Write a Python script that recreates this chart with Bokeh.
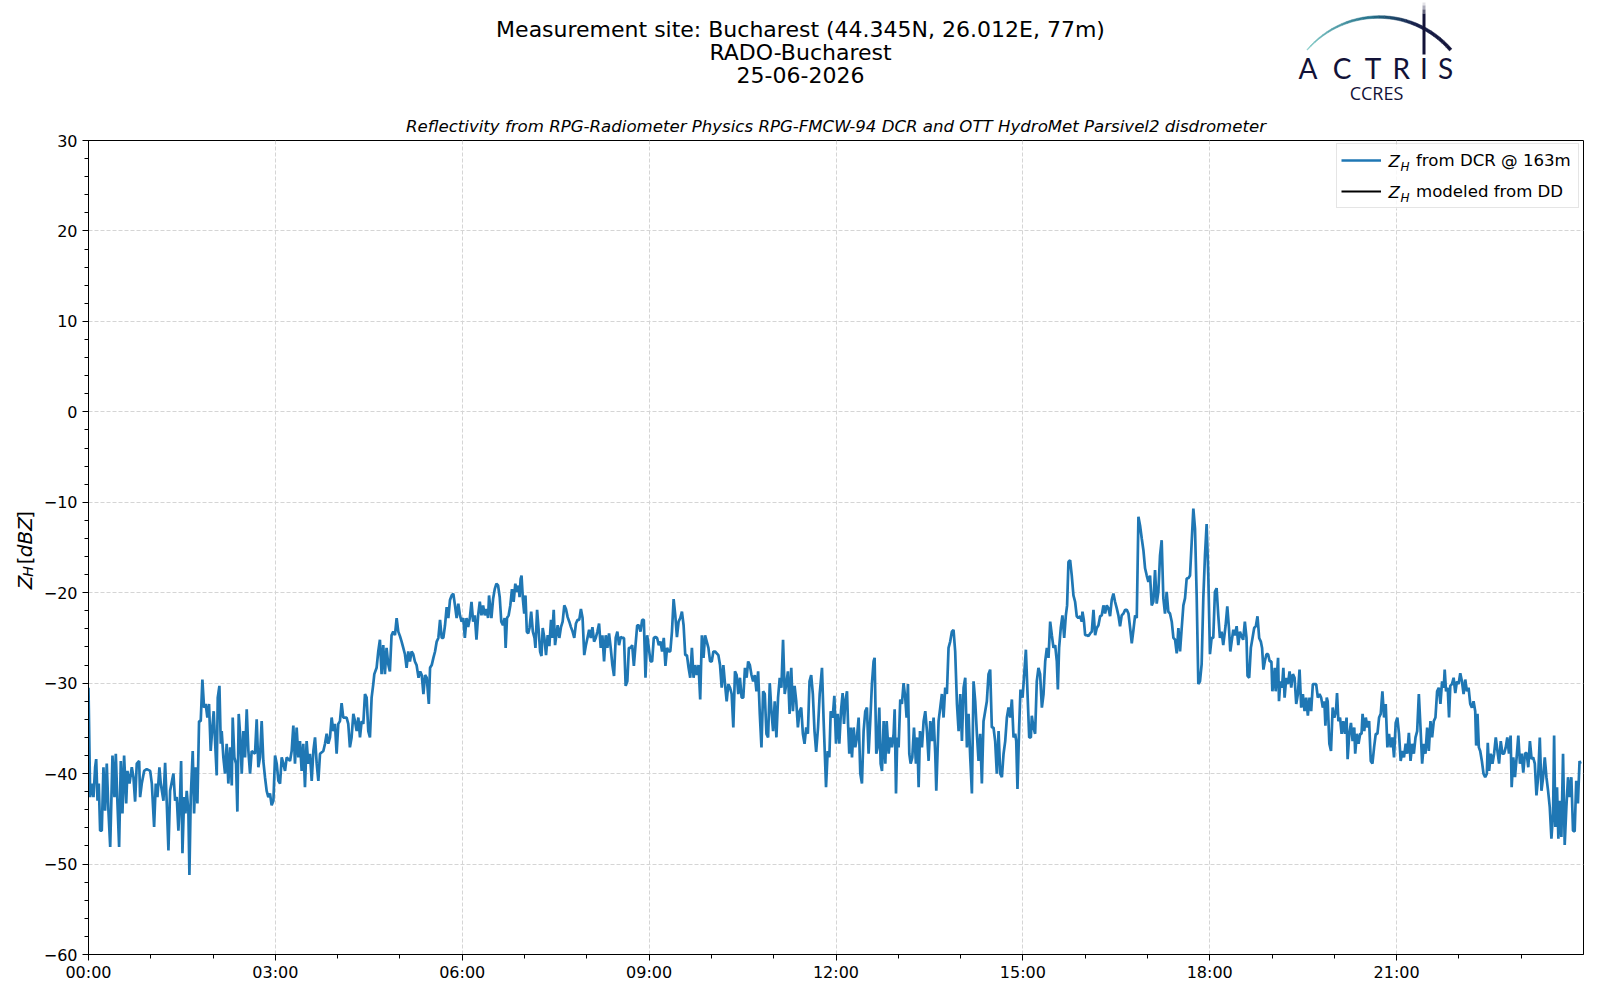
from math import cos, pi, radians, sin

import pandas as pd
from bokeh.core.properties import value
from bokeh.embed import file_html
from bokeh.layouts import column, row
from bokeh.models import (BoxAnnotation, ColumnDataSource, DatetimeTickFormatter,
                          FixedTicker, Label, Legend, LegendItem, Range1d)
from bokeh.plotting import figure
from bokeh.resources import INLINE

DAY = pd.Timestamp("2026-06-25")

# Z_H from the cloud radar at 163 m
# (minutes after midnight, dBZ), split by time of day
t_a = [0.0, 1.6, 3.2, 4.8, 6.4, 7.4, 8.7, 9.9, 11.2, 12.8,
       14.4, 16.0, 17.6, 19.2, 20.9, 23.1, 25.0, 26.3, 27.9, 29.5,
       31.1, 32.7, 34.3, 36.3, 37.5, 39.5, 41.7, 43.3, 44.9, 46.5,
       48.8, 49.7, 51.3, 53.6, 56.1, 59.4, 61.0, 63.2, 64.8, 66.4,
       68.3, 69.6, 72.2, 73.8, 75.4, 77.0, 78.6, 81.8, 83.4, 85.0,
       86.6, 88.2, 89.2, 90.5, 92.1, 93.4, 94.6, 96.2, 97.2, 98.5,
       100.4, 101.7, 103.3, 104.9, 106.5, 108.1, 109.7, 111.3, 112.9, 114.5,
       116.1, 117.7, 119.3, 120.6, 121.9, 123.5, 124.5, 126.1, 127.4, 128.3,
       129.9, 131.5, 133.1, 134.7, 136.4, 138.0, 138.9, 140.5, 142.1, 143.4,
       144.7, 146.0, 147.6, 149.2, 150.8, 152.4, 154.0, 155.6, 157.2, 160.4,
       162.0, 163.6, 165.2, 166.8, 168.4, 170.0, 171.6, 173.2, 174.8, 176.4,
       178.1, 179.7, 181.3, 182.9, 184.5, 186.1, 187.7, 189.3, 190.9, 194.1,
       195.7, 197.3, 198.9, 200.5, 202.1, 203.7, 205.3, 206.9, 208.5, 210.1,
       211.7, 213.3, 215.0, 216.6, 218.2, 219.8, 221.4, 223.0, 226.2, 227.8,
       229.4, 231.0, 232.6, 234.2, 235.8, 237.4, 239.0, 240.6, 242.2, 243.8,
       245.4, 248.6, 250.2, 251.8, 253.4, 255.1, 256.7, 258.3, 259.9, 261.5,
       263.1, 264.7, 266.3, 267.9, 269.5, 271.1, 272.7, 274.3, 275.3, 277.5,
       279.1, 280.7, 282.3, 283.9, 285.5, 287.1, 288.7, 290.3, 291.9, 293.5,
       295.2, 296.8, 298.4, 300.0, 301.6, 303.2, 304.8, 306.4, 308.0, 309.6,
       311.2, 312.8, 314.4, 316.0]
z_a = [-30.5, -42.6, -41.1, -42.6, -39.3, -38.4, -43.0, -41.1, -46.3, -46.3,
       -39.3, -44.1, -38.9, -44.1, -48.1, -38.0, -42.6, -37.8, -43.3, -48.1,
       -38.6, -44.4, -38.0, -43.3, -39.7, -41.1, -39.3, -40.4, -43.1, -38.9,
       -38.6, -42.6, -41.1, -39.7, -39.5, -39.7, -41.1, -45.9, -41.1, -42.6,
       -39.3, -41.1, -43.0, -38.8, -43.3, -48.5, -41.9, -40.0, -43.0, -42.6,
       -46.3, -42.6, -38.6, -48.8, -42.6, -44.4, -41.9, -44.1, -51.2, -42.6,
       -37.5, -44.4, -39.3, -43.3, -34.2, -34.2, -29.6, -32.7, -32.3, -33.8,
       -32.3, -37.5, -34.9, -33.1, -36.4, -40.2, -31.6, -30.3, -36.7, -35.3,
       -38.2, -40.0, -36.7, -41.1, -37.1, -41.3, -33.8, -38.2, -38.9, -44.2,
       -33.4, -35.6, -40.0, -35.3, -38.2, -32.9, -37.5, -40.0, -37.5, -37.8,
       -34.0, -39.3, -38.2, -34.2, -38.6, -40.4, -41.9, -42.6, -42.2, -43.5,
       -43.0, -38.0, -38.9, -40.8, -41.1, -38.2, -38.9, -39.7, -38.2, -38.6,
       -37.5, -34.7, -38.9, -34.9, -38.2, -36.4, -39.7, -36.7, -41.5, -36.4,
       -38.9, -37.8, -40.8, -37.5, -36.0, -38.9, -40.8, -37.8, -37.5, -36.7,
       -35.6, -36.7, -36.0, -33.8, -35.3, -34.5, -37.8, -34.5, -34.2, -32.2,
       -33.8, -33.8, -34.5, -37.1, -36.0, -33.4, -34.2, -35.3, -33.8, -36.0,
       -34.2, -34.5, -31.2, -31.6, -35.3, -36.0, -31.6, -30.1, -29.0, -28.3,
       -26.5, -25.2, -29.0, -25.8, -29.0, -26.1, -27.9, -28.7, -24.7, -24.3,
       -24.7, -22.8, -24.3, -24.8, -25.4, -26.1, -26.8, -28.3, -26.5, -27.6,
       -26.5, -26.8, -27.6, -28.0]

t_b = [317.9, 319.5, 321.0, 322.6, 324.2, 325.8, 327.8, 329.0, 330.6, 332.2,
       333.8, 335.4, 337.0, 338.6, 340.2, 341.8, 343.4, 345.0, 346.6, 348.2,
       349.8, 351.4, 353.0, 354.6, 356.2, 357.8, 359.4, 361.0, 362.5, 364.1,
       365.7, 367.3, 368.9, 370.5, 372.1, 373.7, 375.3, 376.9, 378.5, 380.1,
       381.7, 383.3, 384.9, 385.8, 388.1, 389.7, 391.3, 392.9, 394.5, 396.1,
       397.6, 399.2, 400.8, 401.8, 403.1, 404.7, 406.3, 407.9, 409.5, 411.1,
       412.7, 414.3, 415.2, 416.2, 417.1, 418.4, 419.7, 420.9, 422.2, 423.5,
       424.8, 426.4, 428.0, 429.6, 430.5, 432.1, 433.7, 435.0, 436.3, 437.5,
       439.1, 440.7, 442.3, 443.9, 445.5, 446.5, 448.1, 449.4, 450.3, 451.9,
       453.5, 455.1, 456.7, 458.3, 459.9, 461.5, 463.1, 464.7, 466.3, 467.9,
       469.5, 471.1, 472.7, 474.3, 475.9, 477.5, 479.1, 480.6, 482.2, 483.8,
       485.4, 487.0, 488.6, 490.2, 491.8, 493.4, 495.0, 496.6, 498.2, 499.8,
       501.4, 503.0, 504.6, 506.2, 507.8, 509.4, 511.0, 512.6, 514.2, 515.8,
       517.4, 519.0, 520.5, 522.1, 523.7, 525.3, 526.9, 528.5, 530.1, 531.7,
       533.3, 534.9, 536.5, 538.1, 539.7, 541.3, 542.9, 544.5, 546.1, 547.7,
       549.3, 550.9, 552.5, 554.1, 555.7, 557.3, 558.9, 560.4, 562.0, 563.6,
       565.2, 566.8, 568.4, 570.0, 571.6, 573.2, 574.8, 576.4, 578.0, 579.6,
       581.2, 582.8, 584.4, 586.0, 587.6, 589.2, 590.8, 592.4, 593.9, 595.5,
       597.1, 598.7, 600.3, 601.9, 603.5, 606.7, 608.3, 609.9, 611.5, 613.1,
       614.7, 616.3, 617.9, 619.5, 621.1, 622.7, 624.3, 625.9, 627.5, 629.1,
       630.7, 632.3, 633.9, 635.4, 637.0, 638.6, 640.2, 641.8, 643.4, 645.0,
       646.6, 648.2, 649.8, 651.4, 653.0, 654.6, 656.2, 657.8, 659.4, 661.0,
       662.6, 664.2, 665.8, 667.4, 669.0, 670.6, 672.1, 673.7, 675.3, 676.9,
       678.5, 680.1, 681.7, 683.3, 684.9, 686.5, 688.1, 689.7, 691.3, 692.9,
       694.5, 696.1, 697.7, 699.3, 700.9]
z_b = [-29.4, -28.7, -29.1, -31.2, -29.1, -29.4, -32.3, -28.3, -28.0, -27.2,
       -26.5, -25.4, -25.0, -23.0, -25.0, -25.0, -23.6, -21.6, -22.8, -20.8,
       -20.3, -20.1, -21.4, -22.8, -21.2, -22.5, -23.2, -22.8, -25.0, -22.8,
       -23.8, -22.8, -21.0, -23.2, -22.5, -25.2, -22.5, -21.0, -22.5, -21.4,
       -22.5, -21.8, -22.8, -20.3, -22.8, -20.7, -19.6, -19.0, -19.2, -20.5,
       -23.2, -23.6, -22.8, -26.1, -22.8, -22.5, -21.4, -19.6, -21.0, -19.0,
       -19.9, -19.2, -20.5, -18.5, -18.1, -20.7, -22.3, -20.3, -24.3, -24.5,
       -23.9, -22.1, -24.3, -25.0, -26.1, -21.9, -24.3, -26.5, -27.0, -23.9,
       -25.0, -26.9, -24.7, -25.9, -23.0, -25.0, -21.9, -25.8, -25.0, -23.6,
       -25.0, -23.8, -23.2, -21.4, -21.8, -22.7, -23.2, -23.8, -24.3, -25.0,
       -23.4, -23.0, -23.0, -21.8, -22.8, -26.9, -25.8, -25.0, -24.1, -25.0,
       -23.8, -25.4, -25.0, -24.3, -23.4, -26.1, -24.7, -27.6, -24.7, -26.1,
       -24.5, -26.1, -28.0, -29.2, -25.0, -24.3, -25.8, -24.9, -25.0, -25.0,
       -30.3, -29.8, -26.1, -26.1, -25.8, -28.1, -25.8, -23.6, -23.6, -24.3,
       -23.0, -23.0, -29.4, -24.7, -26.1, -27.6, -27.6, -25.0, -24.9, -25.0,
       -25.8, -25.4, -26.5, -25.0, -28.1, -26.1, -26.5, -26.5, -24.3, -20.7,
       -22.5, -24.9, -23.2, -22.8, -22.1, -23.6, -26.9, -26.9, -28.3, -29.4,
       -26.1, -29.4, -28.0, -29.1, -28.0, -31.8, -24.7, -27.2, -24.7, -25.4,
       -26.1, -27.6, -27.6, -26.5, -26.5, -26.9, -28.0, -30.5, -28.0, -30.1,
       -32.0, -30.1, -30.5, -31.2, -34.9, -28.7, -29.1, -31.2, -29.4, -31.6,
       -31.6, -28.3, -29.4, -27.6, -28.0, -29.1, -29.8, -29.1, -30.9, -28.7,
       -33.4, -37.1, -30.9, -31.2, -35.6, -36.0, -30.0, -33.1, -35.3, -32.0,
       -36.0, -31.6, -29.4, -30.5, -25.2, -31.2, -30.1, -28.7, -33.4, -28.3,
       -33.1, -30.3, -32.0, -34.9, -33.1, -32.7, -35.6, -36.7, -34.9, -35.6,
       -29.8, -29.1, -31.2, -35.3, -37.6]

t_c = [702.7, 704.3, 706.5, 708.1, 710.4, 712.0, 713.6, 714.9, 716.8, 718.4,
       720.0, 721.6, 723.2, 724.8, 726.4, 727.7, 729.0, 730.6, 731.6, 732.8,
       734.1, 735.4, 737.0, 738.6, 740.2, 741.8, 743.4, 745.0, 746.6, 748.2,
       749.8, 751.4, 753.0, 754.6, 756.2, 757.2, 758.8, 760.1, 761.7, 763.0,
       764.3, 765.9, 767.5, 768.8, 770.7, 772.3, 773.9, 775.5, 776.5, 777.8,
       779.0, 780.3, 781.9, 783.5, 785.1, 786.7, 788.0, 789.3, 790.6, 791.9,
       793.5, 795.1, 797.0, 798.3, 799.6, 800.9, 802.8, 804.4, 806.0, 807.6,
       809.2, 810.8, 812.4, 814.0, 815.6, 816.6, 818.8, 820.4, 822.0, 823.6,
       825.2, 826.8, 828.4, 830.0, 831.6, 833.2, 834.8, 836.5, 838.1, 839.7,
       841.3, 842.9, 844.5, 846.1, 847.7, 849.3, 850.9, 852.5, 854.1, 855.7,
       857.3, 858.9, 860.5, 862.1, 863.7, 865.3, 866.9, 868.5, 870.1, 871.7,
       873.3, 874.9, 876.6, 878.2, 879.8, 881.4, 883.0, 884.6, 886.2, 887.8,
       889.4, 891.0, 892.6, 893.6, 894.8, 896.4, 897.7, 899.7, 901.3, 902.9,
       904.5, 906.1, 907.7, 908.6, 910.2, 911.8, 913.4, 915.0, 916.6, 918.3,
       919.9, 921.5, 923.1, 924.7, 926.3, 927.9, 929.5, 931.1, 932.7, 933.7,
       934.9, 936.5, 938.1, 939.8, 941.4, 942.6, 943.9, 945.5, 947.1, 948.7,
       950.3, 951.9, 953.5, 955.1, 956.7, 957.4, 958.7, 960.0, 961.6, 963.2,
       964.8, 966.4, 968.0, 969.6, 971.2, 972.8, 974.4, 976.0, 977.6, 979.2,
       980.8, 982.4, 984.0, 985.6, 987.2, 988.8, 990.4, 992.0, 993.6, 995.2,
       996.9, 998.5, 1000.1, 1001.7, 1003.3, 1004.9, 1006.5, 1008.1, 1009.7, 1011.3,
       1012.9, 1014.5, 1016.1, 1017.7, 1019.3, 1020.9, 1022.5, 1024.1, 1025.7, 1027.3,
       1028.9, 1030.5, 1032.1, 1033.7, 1035.3, 1036.9, 1038.5, 1040.1, 1041.7, 1043.4,
       1045.0, 1046.6, 1048.2, 1049.8, 1051.4, 1053.0, 1054.6, 1056.2, 1057.8, 1059.4,
       1061.0, 1062.6, 1064.2, 1065.8, 1067.4, 1069.0, 1070.6, 1072.2, 1073.8, 1075.4,
       1077.0, 1078.6, 1080.2, 1081.8, 1083.4, 1085.0, 1086.6, 1088.2, 1089.8, 1091.4,
       1093.0]
z_c = [-34.9, -31.2, -28.3, -34.2, -41.5, -37.5, -38.2, -33.1, -33.8, -31.4,
       -36.7, -33.4, -36.7, -33.1, -31.1, -34.5, -32.0, -30.9, -34.5, -37.8,
       -34.9, -38.2, -34.9, -37.1, -36.0, -33.8, -40.0, -41.1, -35.3, -33.1,
       -32.7, -37.8, -34.2, -30.1, -27.6, -27.2, -37.8, -37.1, -32.7, -38.9,
       -39.7, -34.2, -38.9, -34.2, -37.8, -36.0, -37.1, -35.6, -32.9, -42.2,
       -36.0, -37.1, -31.8, -32.3, -30.0, -31.6, -33.8, -30.1, -37.8, -38.9,
       -38.2, -34.9, -38.9, -36.0, -41.5, -35.3, -37.1, -34.2, -33.1, -35.3,
       -38.6, -34.2, -36.4, -33.8, -37.8, -41.9, -34.2, -32.7, -31.2, -33.8,
       -30.5, -31.2, -26.1, -25.4, -24.3, -24.1, -26.5, -32.3, -35.3, -31.2,
       -36.4, -30.5, -29.4, -37.1, -33.4, -38.2, -42.2, -29.8, -32.0, -35.6,
       -38.6, -35.6, -41.1, -34.2, -33.1, -32.0, -29.0, -28.5, -34.9, -34.9,
       -36.4, -40.0, -35.3, -40.0, -40.4, -37.8, -36.4, -33.8, -32.7, -33.8,
       -31.8, -36.0, -35.6, -36.4, -41.7, -34.9, -30.7, -31.6, -29.0, -26.3,
       -31.2, -36.0, -36.0, -33.6, -34.9, -35.6, -29.8, -28.3, -29.0, -32.7,
       -31.2, -27.6, -26.1, -27.2, -23.2, -24.7, -26.1, -25.8, -27.6, -30.7,
       -26.1, -23.9, -22.5, -25.0, -22.5, -21.4, -16.6, -16.4, -18.1, -20.3,
       -21.0, -22.6, -22.8, -22.6, -23.2, -22.1, -23.0, -24.7, -24.7, -24.8,
       -24.5, -24.3, -21.9, -24.7, -23.9, -23.6, -22.6, -22.5, -21.4, -22.3,
       -21.4, -21.7, -22.6, -20.8, -20.1, -21.0, -21.7, -22.5, -23.7, -22.5,
       -22.3, -21.9, -21.9, -22.3, -23.9, -25.6, -24.1, -22.5, -22.8, -11.6,
       -12.6, -14.0, -15.3, -17.3, -18.1, -18.8, -18.1, -21.4, -21.0, -17.5,
       -21.2, -19.9, -15.9, -14.2, -20.6, -22.3, -19.9, -22.1, -22.3, -23.2,
       -25.0, -25.2, -26.7, -23.9, -26.5, -23.9, -21.4, -20.6, -18.4, -18.4,
       -18.1, -14.4, -10.7, -12.9, -20.3, -30.1, -29.8, -27.9, -20.6, -15.9,
       -12.4, -18.1, -26.8, -25.0, -25.0, -19.9, -19.5, -22.5, -25.0, -24.3,
       -25.8]

t_d = [1095.3, 1096.9, 1098.5, 1099.8, 1101.1, 1102.7, 1104.3, 1105.9, 1107.5, 1109.1,
       1110.6, 1112.2, 1113.8, 1115.4, 1116.4, 1118.0, 1119.6, 1121.2, 1122.8, 1124.4,
       1126.0, 1127.6, 1129.2, 1130.4, 1131.7, 1133.0, 1134.6, 1136.2, 1137.8, 1139.4,
       1140.3, 1141.6, 1142.6, 1143.5, 1144.8, 1145.8, 1146.7, 1148.0, 1149.6, 1150.9,
       1152.1, 1153.7, 1155.3, 1156.9, 1158.5, 1160.1, 1161.7, 1163.3, 1164.9, 1166.5,
       1168.1, 1169.7, 1171.3, 1172.9, 1174.5, 1176.1, 1177.7, 1179.3, 1180.9, 1182.5,
       1184.1, 1185.7, 1187.3, 1188.9, 1190.4, 1191.4, 1192.7, 1193.6, 1195.2, 1196.8,
       1198.4, 1200.0, 1201.6, 1202.6, 1203.9, 1205.5, 1207.0, 1208.6, 1210.2, 1211.8,
       1212.8, 1214.4, 1216.0, 1217.6, 1219.2, 1220.1, 1221.7, 1223.3, 1224.9, 1226.2,
       1227.2, 1228.8, 1230.3, 1231.9, 1233.5, 1235.1, 1236.7, 1238.3, 1239.9, 1241.5,
       1243.1, 1244.7, 1246.3, 1247.9, 1249.5, 1251.1, 1252.7, 1254.3, 1255.9, 1257.5,
       1259.1, 1260.7, 1262.3, 1263.9, 1265.5, 1267.1, 1268.7, 1270.2, 1271.8, 1273.4,
       1275.0, 1276.6, 1278.2, 1279.8, 1281.4, 1283.0, 1284.6, 1286.2, 1287.8, 1289.4,
       1291.0, 1292.6, 1294.2, 1295.8, 1297.4, 1299.0, 1300.6, 1302.2, 1303.8, 1305.4,
       1306.3, 1307.6, 1309.2, 1310.5, 1311.7, 1313.3, 1314.9, 1316.5, 1318.1, 1319.7,
       1321.3, 1322.9, 1324.5, 1326.1, 1327.7, 1329.3, 1330.9, 1332.5, 1334.1, 1335.7,
       1336.6, 1337.9, 1339.2, 1340.5, 1342.1, 1343.7, 1345.3, 1346.9, 1347.8, 1349.1,
       1350.7, 1352.3, 1353.9, 1355.5, 1357.1, 1358.7, 1360.3, 1361.9, 1363.5, 1365.1,
       1366.6, 1368.2, 1369.8, 1370.8, 1372.4, 1374.0, 1375.6, 1377.2, 1378.8, 1380.4,
       1382.0, 1383.6, 1385.2, 1386.8, 1388.4, 1390.0, 1391.5, 1393.1, 1394.7, 1396.3,
       1397.9, 1399.5, 1401.1, 1402.7, 1404.3, 1405.9, 1407.5, 1409.1, 1410.7, 1411.7,
       1412.9, 1414.5, 1415.8, 1417.1, 1418.7, 1420.3, 1421.9, 1423.5, 1425.1, 1426.7,
       1428.3, 1429.9, 1431.5, 1433.0, 1434.6, 1436.2, 1437.2]
z_d = [-23.6, -21.5, -23.9, -26.5, -25.4, -24.1, -24.7, -23.7, -25.8, -24.3,
       -24.8, -25.2, -23.2, -25.0, -29.2, -29.4, -26.1, -25.0, -23.9, -23.7,
       -22.6, -25.0, -25.4, -26.1, -28.5, -27.6, -26.8, -26.8, -27.6, -27.6,
       -30.9, -29.8, -28.3, -30.9, -29.0, -27.2, -32.0, -29.8, -30.5, -28.3,
       -31.6, -29.4, -30.1, -28.7, -30.5, -29.0, -29.4, -32.3, -31.2, -28.5,
       -32.7, -31.2, -33.1, -31.6, -33.6, -31.6, -33.1, -30.1, -30.1, -30.1,
       -31.6, -31.2, -31.6, -32.7, -32.0, -34.7, -31.6, -32.0, -36.7, -37.5,
       -32.7, -33.8, -33.1, -31.1, -34.2, -33.8, -35.6, -34.2, -35.6, -33.8,
       -38.4, -35.6, -34.4, -36.4, -34.9, -37.8, -35.6, -36.7, -35.6, -35.6,
       -33.4, -35.3, -33.8, -34.9, -34.2, -38.6, -38.9, -37.1, -35.6, -35.6,
       -33.8, -33.4, -30.9, -33.8, -32.3, -37.1, -35.6, -37.1, -36.0, -38.2,
       -34.4, -33.8, -35.6, -38.6, -37.5, -38.2, -36.7, -37.8, -35.5, -38.6,
       -36.7, -37.8, -36.0, -35.3, -31.2, -34.9, -38.9, -36.7, -37.8, -34.9,
       -37.5, -34.2, -36.0, -34.2, -33.8, -30.9, -30.5, -32.3, -29.8, -30.5,
       -28.5, -30.9, -30.5, -33.8, -30.3, -30.1, -29.4, -31.1, -29.8, -30.1,
       -28.9, -29.8, -31.2, -29.6, -30.9, -30.5, -32.3, -32.7, -32.0, -33.1,
       -36.9, -33.4, -37.1, -37.5, -38.6, -40.0, -40.4, -40.0, -36.6, -39.7,
       -37.8, -38.9, -37.8, -36.0, -37.5, -38.9, -36.4, -37.8, -37.8, -37.1,
       -36.0, -37.8, -35.8, -41.5, -38.2, -40.4, -38.2, -35.8, -38.9, -37.8,
       -39.9, -37.8, -37.7, -39.3, -36.4, -38.4, -38.2, -38.9, -42.4, -40.4,
       -36.0, -41.9, -40.4, -38.2, -40.4, -41.9, -43.7, -47.2, -44.4, -35.8,
       -45.9, -41.5, -47.2, -43.0, -47.0, -37.8, -47.9, -43.7, -40.4, -42.6,
       -40.4, -46.3, -46.4, -40.8, -43.3, -38.6, -38.9]

# no disdrometer-modelled Z_H on this day (one missing value keeps the legend swatch)
dd_minutes = [0.0]
dd_zh = [float("nan")]

y_ticks = [-60, -50, -40, -30, -20, -10, 0, 10, 20, 30]
x_tick_hours = [0, 3, 6, 9, 12, 15, 18, 21]

title_lines = ["Measurement site: Bucharest (44.345N, 26.012E, 77m)",
               "RADO-Bucharest", "25-06-2026"]
subtitle = ("Reflectivity from RPG-Radiometer Physics RPG-FMCW-94 DCR "
            "and OTT HydroMet Parsivel2 disdrometer")

minutes = t_a + t_b + t_c + t_d
zh = z_a + z_b + z_c + z_d
assert len(minutes) == len(zh)

FONT = "DejaVu Sans"
BLUE = "#1f77b4"
NAVY = "#121238"

# page layout: header 0..106, y-label strip 0..40, chart frame at x 88..1583, y 140..957
W, H = 1584, 984
HEAD_H, STRIP_W = 106, 40
FL, FB = 88, 957


def plain_fig(width, height):
    f = figure(width=width, height=height, x_range=Range1d(0, width),
               y_range=Range1d(0, height), x_axis_location=None, y_axis_location=None,
               min_border=0, output_backend="svg", toolbar_location=None, tools="")
    f.grid.visible = False
    f.outline_line_color = None
    f.background_fill_color = "white"
    f.border_fill_color = "white"
    return f


def ms(hours):
    return (DAY + pd.Timedelta(hours=hours)).timestamp() * 1000


# ---- header: site title and ACTRIS / CCRES logo (page pixels, y up) ----
head = plain_fig(W, HEAD_H)


def hy(y):
    return HEAD_H - y


head.text(x=[800, 800, 800], y=[hy(28.6), hy(51.5), hy(74)], text=title_lines,
          text_font=value(FONT), text_font_size=value("22px"), text_color="black",
          text_align="center", text_baseline="middle")

stops = [(0.0, (128, 203, 198)), (0.45, (35, 112, 138)),
         (0.72, (23, 32, 74)), (1.0, (18, 18, 56))]


def mix(u):
    for (u0, c0), (u1, c1) in zip(stops[:-1], stops[1:]):
        if u <= u1:
            f = (u - u0) / (u1 - u0)
            return "#%02x%02x%02x" % tuple(round(a + (b - a) * f) for a, b in zip(c0, c1))
    return "#%02x%02x%02x" % stops[-1][1]


cx, cy, rad = 1378.4, hy(111.3), 94.8
n_seg = 30
a_start, a_end = radians(139.2), radians(40.8)
arc_xs, arc_ys, arc_cols = [], [], []
for i in range(n_seg):
    u0, u1 = i / n_seg, (i + 1) / n_seg
    a0 = a_start + (a_end - a_start) * u0
    a1 = a_start + (a_end - a_start) * u1
    w0 = 0.7 + 2.5 * (1 - (1 - u0) ** 2)
    w1 = 0.7 + 2.5 * (1 - (1 - u1) ** 2)
    arc_xs.append([cx + (rad + w0 / 2) * cos(a0), cx + (rad + w1 / 2) * cos(a1),
                   cx + (rad - w1 / 2) * cos(a1), cx + (rad - w0 / 2) * cos(a0)])
    arc_ys.append([cy + (rad + w0 / 2) * sin(a0), cy + (rad + w1 / 2) * sin(a1),
                   cy + (rad - w1 / 2) * sin(a1), cy + (rad - w0 / 2) * sin(a0)])
    arc_cols.append(mix((u0 + u1) / 2))
head.patches(xs=arc_xs, ys=arc_ys, fill_color=arc_cols, line_color=arc_cols,
             line_width=0.5)

# mast above the "I", fading out at the top
head.quad(left=[1422] * 4, right=[1425] * 4,
          top=[hy(2), hy(5), hy(9), hy(13)], bottom=[hy(5), hy(9), hy(13), hy(54)],
          fill_color=NAVY, fill_alpha=[0.12, 0.35, 0.65, 1.0], line_alpha=0)

head.text(x=[1307.5, 1341.7, 1372.5, 1400.8, 1423.5, 1445.0], y=[hy(67.5)] * 6,
          text=list("ACTRIS"), text_font=value("Lato"), text_font_size=value("28px"),
          text_color=NAVY, text_align="center", text_baseline="middle")
head.text(x=[1376], y=[hy(92)], text=["CCRES"], text_font=value("Open Sans"),
          text_font_size=value("18px"), text_color=NAVY, text_align="center",
          text_baseline="middle")

# ---- y axis label strip:  Z_H [dBZ] ----
strip = plain_fig(STRIP_W, H - HEAD_H)


def sy_strip(y):
    return H - y


for txt, x, y, size, style in [("Z", 24.3, 590, 20, "italic"),
                               ("H", 27.5, 576.5, 14, "italic"),
                               ("[", 24.3, 563, 20, "normal"),
                               ("dBZ", 24.3, 555.5, 20, "italic"),
                               ("]", 24.3, 514, 20, "normal")]:
    strip.text(x=[x], y=[sy_strip(y)], text=[txt], angle=pi / 2,
               text_font=value(FONT), text_font_size=value(f"{size}px"),
               text_font_style=style, text_color="black", text_align="left",
               text_baseline="middle")

# ---- main chart ----
p = figure(
    width=W - STRIP_W, height=H - HEAD_H,
    x_axis_type="datetime",
    x_range=Range1d(DAY, DAY + pd.Timedelta(days=1)),
    y_range=Range1d(-60, 30),
    output_backend="svg", toolbar_location=None, tools="",
    min_border_left=FL - STRIP_W, min_border_right=1,
    min_border_top=140 - HEAD_H, min_border_bottom=H - FB,
)
p.background_fill_color = "white"
p.border_fill_color = "white"
p.outline_line_color = "black"
p.outline_line_width = 1

p.title.text = subtitle
p.title.align = "center"
p.title.text_font = FONT
p.title.text_font_size = "16.6px"
p.title.text_font_style = "italic"
p.title.text_color = "black"
p.title.standoff = 9

src = ColumnDataSource(data=dict(t=DAY + pd.to_timedelta(minutes, unit="m"), zh=zh))
dd_src = ColumnDataSource(data=dict(t=DAY + pd.to_timedelta(dd_minutes, unit="m"), zh=dd_zh))
dcr_line = p.line("t", "zh", source=src, line_color=BLUE, line_width=2.7)
dd_line = p.line("t", "zh", source=dd_src, line_color="black", line_width=2)

p.xaxis.ticker = FixedTicker(ticks=[ms(h) for h in x_tick_hours],
                             minor_ticks=[ms(h) for h in range(24)])
fmt = "%H:%M"
p.xaxis.formatter = DatetimeTickFormatter(
    seconds=fmt, minsec=fmt, minutes=fmt, hourmin=fmt, hours=fmt, days=fmt,
    months=fmt, years=fmt)
p.yaxis.ticker = FixedTicker(ticks=y_ticks, minor_ticks=list(range(-60, 31, 2)))
p.yaxis.major_label_overrides = {v: str(v).replace("-", "\u2212") for v in y_ticks}

for ax in (p.xaxis[0], p.yaxis[0]):
    ax.axis_line_color = "black"
    ax.major_tick_line_color = "black"
    ax.minor_tick_line_color = "black"
    ax.major_tick_out = 6
    ax.major_tick_in = 0
    ax.minor_tick_out = 4
    ax.minor_tick_in = 0
    ax.major_label_text_font = FONT
    ax.major_label_text_font_size = "16px"
    ax.major_label_text_color = "black"
p.xaxis.major_label_standoff = 2
p.yaxis.major_label_standoff = 5

p.grid.grid_line_color = "#d5d5d5"
p.grid.grid_line_dash = "4 2"
p.grid.grid_line_width = 1

# legend box background drawn beneath the Z_H labels, legend itself transparent
p.add_layout(BoxAnnotation(left=1336 - FL, right=1577 - FL, top=FB - 148, bottom=FB - 211,
                           left_units="screen", right_units="screen",
                           top_units="screen", bottom_units="screen",
                           fill_color="white", fill_alpha=0.8, line_alpha=0))
legend = Legend(
    items=[LegendItem(label="from DCR @ 163m", renderers=[dcr_line]),
           LegendItem(label="modeled from DD", renderers=[dd_line])],
    location=(1336 - FL, FB - 211), margin=0, padding=4, spacing=7,
    glyph_width=40, glyph_height=24, label_height=24, label_width=158,
    label_standoff=35, label_text_font=FONT, label_text_font_size="16.6px",
    label_text_color="black", border_line_color="#cccccc", border_line_width=1,
    background_fill_alpha=0,
)
p.add_layout(legend)

# italic Z with subscript H in front of each legend label
for row_y in (164, 195):
    for txt, x, dy, size in [("Z", 1388, 0, 16.6), ("H", 1400, 5, 12)]:
        p.add_layout(Label(x=x - FL, y=FB - row_y - dy, x_units="screen", y_units="screen",
                           text=txt, text_font=FONT, text_font_size=f"{size}px",
                           text_font_style="italic", text_color="black",
                           text_baseline="middle", level="overlay"))

layout = column(head, row(strip, p))
open("out.html", "w").write(file_html(layout, INLINE))
